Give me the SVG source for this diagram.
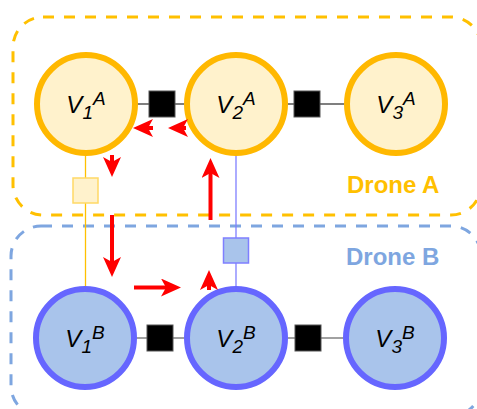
<svg xmlns="http://www.w3.org/2000/svg" width="477" height="409" viewBox="0 0 477 409">
  <style>
    .zoneA { fill: none; stroke: #FFC000; stroke-width: 3; stroke-dasharray: 11 10; }
    .zoneB { fill: none; stroke: #7EA6E0; stroke-width: 3; stroke-dasharray: 11 10; }
    .nodeA { fill: #FFF2CC; stroke: #FFB800; stroke-width: 6; }
    .nodeB { fill: #A9C4EB; stroke: #6666FF; stroke-width: 6; }
    .factor { fill: #000000; stroke: #555555; stroke-width: 1; }
    .edge { stroke: #000000; stroke-width: 1.2; fill: none; }
    .edgeB { stroke: #444444; stroke-width: 1.2; fill: none; }
    .lbl { font-family: "Liberation Sans", Arial, sans-serif; font-style: italic; font-size: 24px; fill: #000000; }
    .sm { font-size: 19px; }
    .zoneLbl { font-family: "Liberation Sans", Arial, sans-serif; font-weight: bold; font-size: 24px; }
    .msg { stroke: #FF0000; stroke-width: 4; fill: none; marker-end: url(#head); }
  </style>
  <defs>
    <marker id="head" viewBox="0 0 20 18" refX="5" refY="9" markerWidth="20" markerHeight="18" markerUnits="userSpaceOnUse" orient="auto">
      <path d="M0,0 L20,9 L0,18 L5,9 Z" fill="#FF0000"/>
    </marker>
  </defs>

  <!-- drone regions -->
  <g id="droneA">
    <rect class="zoneA" x="13" y="17" width="468" height="198" rx="30" ry="30"/>
    <text class="zoneLbl" x="347" y="193" fill="#FFC000">Drone A</text>
  </g>
  <g id="droneB">
    <rect class="zoneB" x="11" y="226" width="470" height="190" rx="30" ry="30"/>
    <text class="zoneLbl" x="346" y="265" fill="#7EA6E0">Drone B</text>
  </g>

  <!-- connectors -->
  <g id="connectors">
    <line class="edge" x1="137" y1="104" x2="184" y2="104"/>
    <line class="edge" x1="288" y1="104" x2="344" y2="104"/>
    <line class="edgeB" x1="136" y1="338" x2="184" y2="338"/>
    <line class="edgeB" x1="288" y1="338" x2="343" y2="338"/>
    <line x1="85.5" y1="156" x2="85.5" y2="286" stroke="#FFC000" stroke-width="1.3"/>
    <line x1="236" y1="156" x2="236" y2="286" stroke="#7F7FFF" stroke-width="1.3"/>
  </g>

  <!-- factor squares -->
  <g id="factorA12"><rect class="factor" x="149" y="91" width="26" height="26"/></g>
  <g id="factorA23"><rect class="factor" x="294" y="91" width="26" height="26"/></g>
  <g id="factorB12"><rect class="factor" x="147" y="325" width="26" height="26"/></g>
  <g id="factorB23"><rect class="factor" x="295" y="325" width="26" height="26"/></g>
  <g id="factorAB1"><rect x="73" y="178" width="25" height="25" fill="#FFF2CC" stroke="#FFD966" stroke-width="1.5"/></g>
  <g id="factorAB2"><rect x="223.5" y="238" width="25" height="25" fill="#A9C4EB" stroke="#7F7FFF" stroke-width="1.5"/></g>

  <!-- variable nodes, drone A -->
  <g id="V1A">
    <circle class="nodeA" cx="86" cy="104" r="49"/>
    <text class="lbl" x="86" y="113" text-anchor="middle">V<tspan class="sm" dy="6">1</tspan><tspan class="sm" dy="-14">A</tspan></text>
  </g>
  <g id="V2A">
    <circle class="nodeA" cx="236" cy="104" r="49"/>
    <text class="lbl" x="236" y="113" text-anchor="middle">V<tspan class="sm" dy="6">2</tspan><tspan class="sm" dy="-14">A</tspan></text>
  </g>
  <g id="V3A">
    <circle class="nodeA" cx="396" cy="104" r="49"/>
    <text class="lbl" x="396" y="113" text-anchor="middle">V<tspan class="sm" dy="6">3</tspan><tspan class="sm" dy="-14">A</tspan></text>
  </g>

  <!-- variable nodes, drone B -->
  <g id="V1B">
    <circle class="nodeB" cx="85" cy="338" r="49"/>
    <text class="lbl" x="85" y="347" text-anchor="middle">V<tspan class="sm" dy="6">1</tspan><tspan class="sm" dy="-14">B</tspan></text>
  </g>
  <g id="V2B">
    <circle class="nodeB" cx="236" cy="338" r="49"/>
    <text class="lbl" x="236" y="347" text-anchor="middle">V<tspan class="sm" dy="6">2</tspan><tspan class="sm" dy="-14">B</tspan></text>
  </g>
  <g id="V3B">
    <circle class="nodeB" cx="395" cy="338" r="49"/>
    <text class="lbl" x="395" y="347" text-anchor="middle">V<tspan class="sm" dy="6">3</tspan><tspan class="sm" dy="-14">B</tspan></text>
  </g>

  <!-- message arrows -->
  <g id="messages">
    <line class="msg" x1="153" y1="128" x2="148" y2="128"/>
    <line class="msg" x1="186" y1="128" x2="183" y2="128"/>
    <line class="msg" x1="112" y1="155" x2="112" y2="162"/>
    <line class="msg" x1="210.5" y1="220" x2="210.5" y2="173"/>
    <line class="msg" x1="112" y1="215" x2="112" y2="262"/>
    <line class="msg" x1="134" y1="287.5" x2="166" y2="287.5"/>
    <line class="msg" x1="209" y1="290" x2="209" y2="285"/>
  </g>
</svg>
